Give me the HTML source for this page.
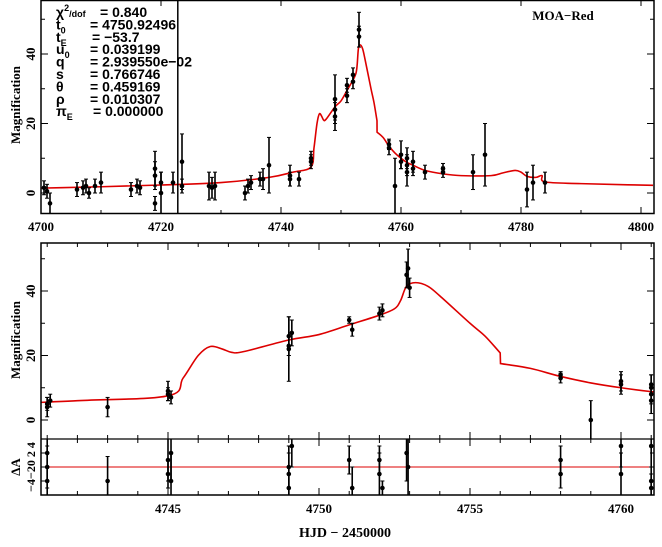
<!DOCTYPE html><html><head><style>body{margin:0;background:#fff}svg text{font-family:"Liberation Serif",serif;font-weight:bold}</style></head><body>
<svg id="s" width="662" height="542" xmlns="http://www.w3.org/2000/svg"></svg>
<script>
const s=document.getElementById('s');let h='';
function L(x1,y1,x2,y2,c,w){h+=`<line x1="${x1}" y1="${y1}" x2="${x2}" y2="${y2}" stroke="${c||'#000'}" stroke-width="${w||1}"/>`;}
function T(x,y,t,o){o=o||{};h+=`<text x="${x}" y="${y}" font-size="${o.fs||13}" text-anchor="${o.a||'middle'}" ${o.r?`transform="rotate(-90 ${x} ${y})"`:''}>${t}</text>`;}
const tx=t=>41+(t-4700)*6, ty=a=>193-a*3.475;
const bx=t=>168+(t-4745)*30.2, by=a=>420-a*3.225, ry=a=>467-a*7;
const model=[[4700,1.4],[4710,1.8],[4720,2.3],[4730,3],[4738,4.5],[4742,6],[4745,7.5],[4745.5,13],[4746,20],[4746.4,22.8],[4746.8,22],[4747.1,21],[4747.5,21.2],[4749,24.8],[4750,26.5],[4751,29.5],[4752,32.5],[4752.5,34.5],[4752.7,37],[4752.9,41.5],[4753.2,42.6],[4753.6,41.5],[4754,38.5],[4755,30],[4755.5,26],[4756,20.8],[4756.01,17.5],[4757,16],[4758,13.5],[4759,11.5],[4760,10],[4761,8.8],[4762,8],[4764,6.5],[4767,5.5],[4770,5],[4775,5],[4777,5.8],[4779,6.5],[4780,6],[4781,4.8],[4782.5,4.5],[4783.5,5],[4784,3.2],[4790,2.7],[4802,2.2]];
function path(X,Y){const P=model.map(p=>[X(p[0]),Y(p[1])]);let d=`M${P[0][0]},${P[0][1]}`;
for(let i=0;i<P.length-1;i++){const p0=P[Math.max(0,i-1)],p1=P[i],p2=P[i+1],p3=P[Math.min(P.length-1,i+2)];
if(Math.abs(p2[0]-p1[0])<1){d+=` L${p2[0]},${p2[1]}`;continue;}
const c1=[p1[0]+(p2[0]-p0[0])/6,p1[1]+(p2[1]-p0[1])/6],c2=[p2[0]-(p3[0]-p1[0])/6,p2[1]-(p3[1]-p1[1])/6];
if(Math.abs(p1[0]-p0[0])<1){c1[0]=p1[0]+(p2[0]-p1[0])/3;c1[1]=p1[1]+(p2[1]-p1[1])/3;}
if(Math.abs(p3[0]-p2[0])<1){c2[0]=p2[0]-(p2[0]-p1[0])/3;c2[1]=p2[1]-(p2[1]-p1[1])/3;}
d+=` C${c1[0]},${c1[1]} ${c2[0]},${c2[1]} ${p2[0]},${p2[1]}`;}
h+=`<path d="${d}" fill="none" stroke="#d00" stroke-width="1.6"/>`;}
h+=`<clipPath id="c1"><rect x="41" y="0" width="613" height="213"/></clipPath><clipPath id="c2"><rect x="41" y="243" width="613" height="196"/></clipPath><clipPath id="c3"><rect x="41" y="439" width="613" height="56"/></clipPath>`;
h+=`<g clip-path="url(#c1)">`;path(tx,ty);
const td=[[4700.5,1.5,2],[4701,0.5,2],[4701.5,-3,3],[4706,1,2],[4707,1.5,2],[4707.5,2,2],[4708,0,1.5],[4709,2,2],[4710,3,3],[4715,1,2],[4716,2,2],[4716.5,1.5,2],[4719,-3,2],[4719,7,5],[4719,5,4],[4720,0,6],[4720,3,3],[4722,3,3],[4723.5,9,8],[4723.5,2,2],[4728,2,4],[4728.5,1.5,3],[4729,2,4],[4734,0,2],[4734.5,2,2],[4735,3,2],[4736.5,4,2],[4737,4,3],[4738,8,8],[4741.5,5,3],[4741.5,4,2],[4743,4,2],[4745,9,2],[4745,10,2],[4749,27,7],[4749,22,4],[4749,24,3],[4751,31,2],[4751,28,2],[4752,34,2],[4752,32,2],[4753,45,3],[4753,47,5],[4758,14,1.5],[4758,13,2],[4759,2,8],[4760,11,4],[4760,9,2],[4761,10,3],[4761,6,4],[4761,8,3],[4762,7,2],[4762,9,3],[4764,6,2],[4767,6,1.5],[4767,7,1.5],[4772,6,5],[4774,11,9],[4781,1,5],[4782,3,5],[4784,3,3]];
function pts(d,X,Y){d.forEach(p=>{const x=X(p[0]);L(x,Y(p[1]-p[2]),x,Y(p[1]+p[2]),'#000',1.6);L(x-2,Y(p[1]-p[2]),x+2,Y(p[1]-p[2]));L(x-2,Y(p[1]+p[2]),x+2,Y(p[1]+p[2]));h+=`<circle cx="${x}" cy="${Y(p[1])}" r="2.3"/>`;});}
pts(td,tx,ty);h+='</g>';
L(tx(4722.8),0,tx(4722.8),213,'#000',1.5);
h+=`<rect x="41" y="0.5" width="613" height="213" fill="none" stroke="#000" stroke-width="1.5"/>`;
for(let t=4700;t<=4800;t+=20){L(tx(t),213,tx(t),207);L(tx(t),0,tx(t),6);T(tx(t),231,t);}
for(let t=4710;t<=4800;t+=20){L(tx(t),213,tx(t),210);}
for(let a=0;a<=50;a+=10){const l=a%20==0?7:4;L(41,ty(a),41+l,ty(a));L(654,ty(a),654-l,ty(a));}
[0,20,40].forEach(a=>T(35,ty(a),a,{r:1}));
T(20,105,'Magnification',{r:1});
T(563,20,'MOA−Red',{fs:13});
const pr=[['χ<tspan dy="-6" font-size="9">2</tspan><tspan dy="6" font-size="9">/dof</tspan>','= 0.840',100],['t<tspan dy="4" font-size="9">0</tspan>','= 4750.92496',90],['t<tspan dy="4" font-size="9">E</tspan>','= −53.7',92],['u<tspan dy="4" font-size="9">0</tspan>','= 0.039199',90],['q','= 2.939550e−02',90],['s','= 0.766746',90],['θ','= 0.459169',90],['ρ','= 0.010307',90],['π<tspan dy="4" font-size="9">E</tspan>','= 0.000000',93]];
pr.forEach((p,i)=>{const y=17+i*12.4;h+=`<text x="56" y="${y}" font-size="14" style="font-family:'Liberation Sans',sans-serif">${p[0]}</text><text x="${p[2]}" y="${y}" font-size="14" style="font-family:'Liberation Sans',sans-serif">${p[1]}</text>`;});
h+=`<g clip-path="url(#c2)">`;path(bx,by);
pts([[4741,5,2],[4741,4,3],[4741.1,6,2],[4743,4,3],[4745,8,2],[4745,9,3],[4745.1,7,2],[4749,26,6],[4749,23,3],[4749,22,10],[4749.1,27,4],[4751,31,1],[4751.1,28,2],[4752,33,2],[4752.1,34,2],[4752.9,45,4],[4752.95,47,6],[4753,41,3],[4758,13,1.5],[4758,14,1],[4759,0,6],[4760,11,3],[4760,12,3],[4761,8,3],[4761,10,4],[4761,6,4],[4761,11,3]],bx,by);h+='</g>';
h+=`<g clip-path="url(#c3)">`;L(41,ry(0),654,ry(0),'#d00',1);
pts([[4741,0,3],[4741,2,2],[4741,-2,2],[4743,-2,3.5],[4745,1,3],[4745,-1,2],[4745.1,-2,4],[4745.1,2,4],[4749,0,3],[4749,-3,2],[4749,-1,3],[4749.1,3,3],[4751,1,2],[4751.1,-3,3],[4752,1,2],[4752.1,-3,1],[4752,-1,3],[4752.9,2,4],[4752.95,0,5],[4758,-1,2],[4758,1,2],[4760,3,3],[4760,-1,3],[4761,-2,2],[4761,3,3],[4761,-3,2]],bx,ry);h+='</g>';
h+=`<rect x="41" y="243" width="613" height="252" fill="none" stroke="#000" stroke-width="1.5"/>`;L(41,439,654,439,'#000',1.2);
for(let t=4741;t<=4761;t++){const l=t%5==0?7:4;[243,439].forEach(y=>{L(bx(t),y,bx(t),y+l);});[439,495].forEach(y=>L(bx(t),y,bx(t),y-l));if(t%5==0)T(bx(t),513,t);}
for(let a=0;a<=50;a+=10){const l=a%20==0?7:4;L(41,by(a),41+l,by(a));L(654,by(a),654-l,by(a));}
[0,20,40].forEach(a=>T(35,by(a),a,{r:1}));
[-4,-2,0,2,4].forEach(a=>{L(41,ry(a),45,ry(a));L(654,ry(a),650,ry(a));});
T(35,467,'−4−20 2 4',{r:1,fs:12});
T(20,340,'Magnification',{r:1});T(20,467,'ΔA',{r:1});
T(345,537,'HJD − 2450000',{fs:14});
s.innerHTML=h;
</script></body></html>
